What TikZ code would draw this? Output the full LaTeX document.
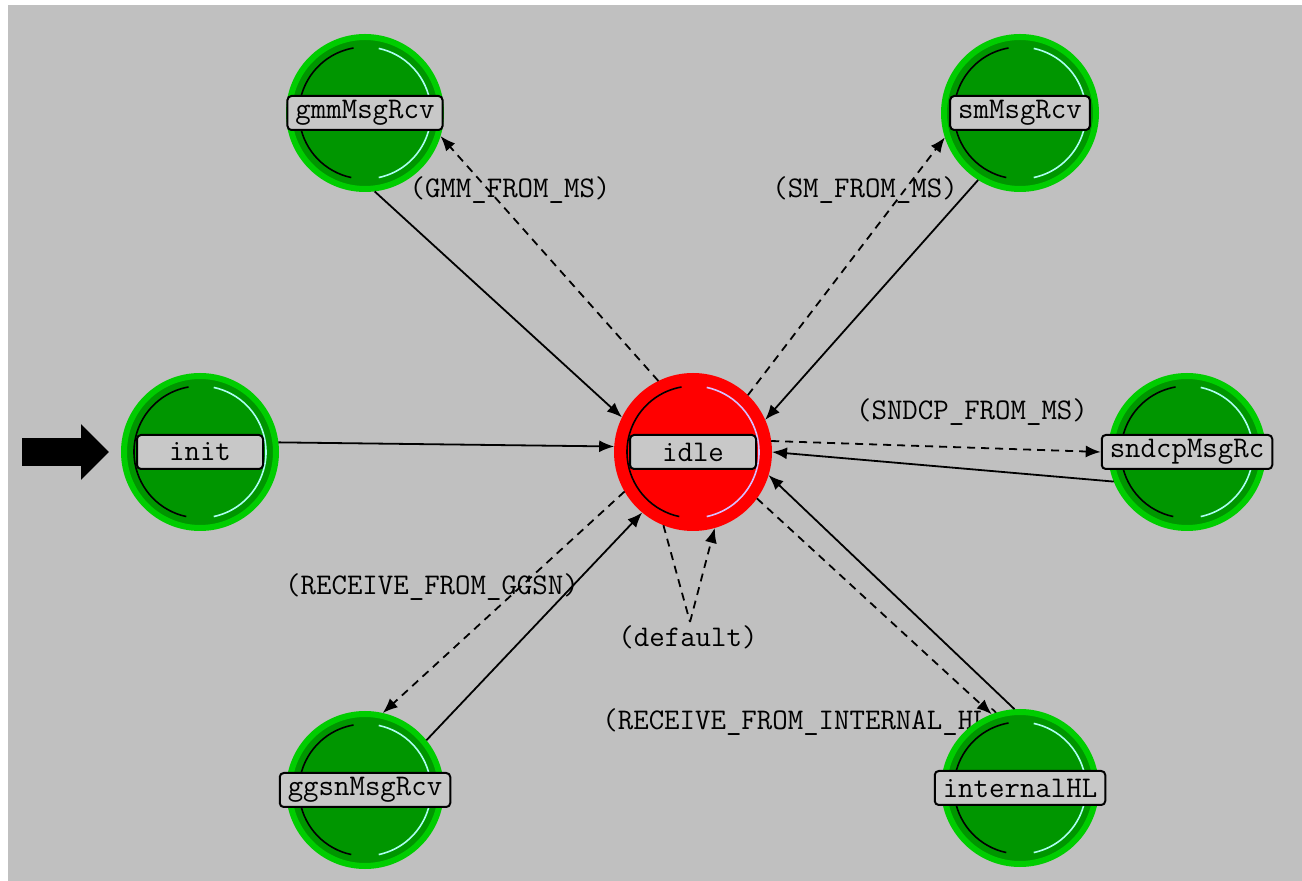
\documentclass[tikz,border=0pt]{standalone}
\usepackage{tikz}
\usetikzlibrary{arrows.meta}

\definecolor{bggray}{RGB}{192,192,192}
\definecolor{boxgray}{RGB}{200,200,200}
\definecolor{stgreen}{RGB}{0,150,0}
\definecolor{ringgreen}{RGB}{0,205,0}
\definecolor{stred}{RGB}{255,0,0}
\definecolor{hicyan}{RGB}{170,255,240}
\definecolor{hilav}{RGB}{215,190,255}

\tikzset{
	state/.style={circle, minimum size=76pt, inner sep=0pt, line width=3pt, draw=ringgreen, fill=stgreen},
	idlestate/.style={state, draw=stred, fill=stred},
	tag/.style={draw=black, line width=1pt, rounded corners=2pt, fill=boxgray, minimum width=63pt, minimum height=17pt, inner xsep=4pt, inner ysep=0pt, font=\fontsize{15}{16}\selectfont\ttfamily},
	lbl/.style={font=\fontsize{15}{16}\selectfont\ttfamily, inner sep=0pt},
	trans/.style={line width=0.9pt, -{Latex[length=7.5pt,width=6pt]}},
	cond/.style={trans, dash pattern=on 4pt off 3pt},
}

\begin{document}
\begin{tikzpicture}[x=0.5pt,y=-0.5pt]
	\useasboundingbox (0,0) rectangle (1302,881);
	\fill[bggray] (8,5) rectangle (1302,881);
	% this one is half hidden by internalHL
	\node[lbl, anchor=west] (lintl) at (602,722) {(RECEIVE\_FROM\_INTERNAL\_HL)};
	% states
	\node[state] (init) at (200,452) {};
	\node[state] (gmm) at (365,113) {};
	\node[state] (sm) at (1020,113) {};
	\node[idlestate] (idle) at (693,452) {};
	\node[state] (sndcp) at (1187,452) {};
	\node[state] (ggsn) at (365,790) {};
	\node[state] (intl) at (1020,788) {};
	\foreach \s/\c in {init/hicyan,gmm/hicyan,sm/hicyan,sndcp/hicyan,ggsn/hicyan,intl/hicyan,idle/hilav}{
		\draw[black, line width=0.8pt] (\s.center) ++(100:33pt) arc[start angle=100, end angle=258, radius=33pt];
		\draw[\c, line width=0.8pt] (\s.center) ++(-78:33pt) arc[start angle=-78, end angle=78, radius=33pt];
	}
	\node[tag] (init-t) at (init) {init};
	\node[tag] (gmm-t) at (gmm) {gmmMsgRcv};
	\node[tag] (sm-t) at (sm) {smMsgRcv};
	\node[tag] (idle-t) at (idle) {idle};
	\node[tag] (sndcp-t) at (sndcp) {sndcpMsgRc};
	\node[tag] (ggsn-t) at (ggsn) {ggsnMsgRcv};
	\node[tag] (intl-t) at (intl) {internalHL};
	% entry arrow
	\coordinate (entry) at (22,452);
	\draw[line width=14pt, -{Triangle[length=14pt,width=27pt]}] (entry) -- ([xshift=-6pt]init.west);
	% transitions
	\draw[trans] (init.7) -- (idle.176);
	\draw[trans] (gmm.-83) -- (idle.154);
	\draw[cond] (idle.116) -- (gmm.-17);
	\draw[trans] (sm.-122) -- (idle.24);
	\draw[cond] (idle.46) -- (sm.-162);
	\draw[cond] (idle.8) -- (sndcp-t.west);
	\draw[trans] (sndcp.-158) -- (idle.0);
	\draw[cond] (idle.-150) -- (ggsn.77);
	\draw[trans] (ggsn.39) -- (idle.-130);
	\draw[cond] (idle.-36) -- (intl.111);
	\draw[trans] (intl.94) -- (idle.-17);
	\coordinate (dflt) at (690,622);
	\draw[cond, -] (idle.-112) -- (dflt);
	\draw[cond] (dflt) -- (idle.-74);
	% conditions
	\node[lbl] (lgmm) at (510,190) {(GMM\_FROM\_MS)};
	\node[lbl] (lsm) at (865,190) {(SM\_FROM\_MS)};
	\node[lbl] (lsndcp) at (972,412) {(SNDCP\_FROM\_MS)};
	\node[lbl] (lggsn) at (432,587) {(RECEIVE\_FROM\_GGSN)};
	\node[lbl] (ldflt) at (688,637) {(default)};
\end{tikzpicture}
\end{document}
